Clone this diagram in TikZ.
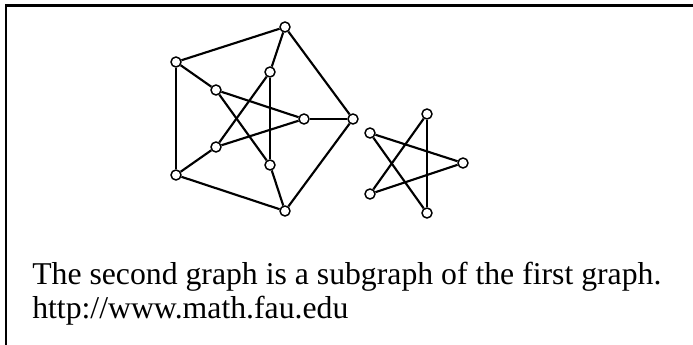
\documentclass[tikz,border=0pt]{standalone}
\usepackage{fontspec}
\setmainfont{Liberation Serif}
\usetikzlibrary{positioning}

\begin{document}
\begin{tikzpicture}[x=0.75pt,y=-0.75pt,
vert/.style={circle,draw,line width=1.1pt,fill=white,inner sep=0pt,minimum size=7.5pt},
edge/.style={line width=1.6pt},
caption/.style={anchor=base west,inner sep=0pt,font=\fontsize{23.8}{28}\selectfont}]
 \useasboundingbox (0,0) rectangle (693,345);
 \draw[line width=1.6pt] (6,5.5) rectangle (720,370);

 % first graph: outer pentagon, inner star
 \foreach \N/\P in {1/{(285,27)},2/{(176,62)},3/{(176,175)},4/{(285,211)},5/{(353,119)}}
 \node[vert] (o\N) at \P {};
 \foreach \N/\P in {1/{(270,72)},2/{(216,90)},3/{(216,147)},4/{(270,165)},5/{(304,119)}}
 \node[vert] (i\N) at \P {};

 % second graph
 \foreach \N/\P in {1/{(427,114)},2/{(370,133)},3/{(370,194)},4/{(427,213)},5/{(463,163)}}
 \node[vert] (s\N) at \P {};

 \foreach \A/\B in {1/2,2/3,3/4,4/5,5/1}
 \draw[edge] (o\A) -- (o\B);
 \foreach \A in {1,...,5}
 \draw[edge] (o\A) -- (i\A);
 \foreach \A/\B in {1/3,2/4,3/5,4/1,5/2} {
 \draw[edge] (i\A) -- (i\B);
 \draw[edge] (s\A) -- (s\B);
 }

 \node[caption] (line1) at (32,284.3) {The second graph is a subgraph of the first graph.};
 \node[caption] (line2) at (32,319) {http://www.math.fau.edu};
\end{tikzpicture}
\end{document}
